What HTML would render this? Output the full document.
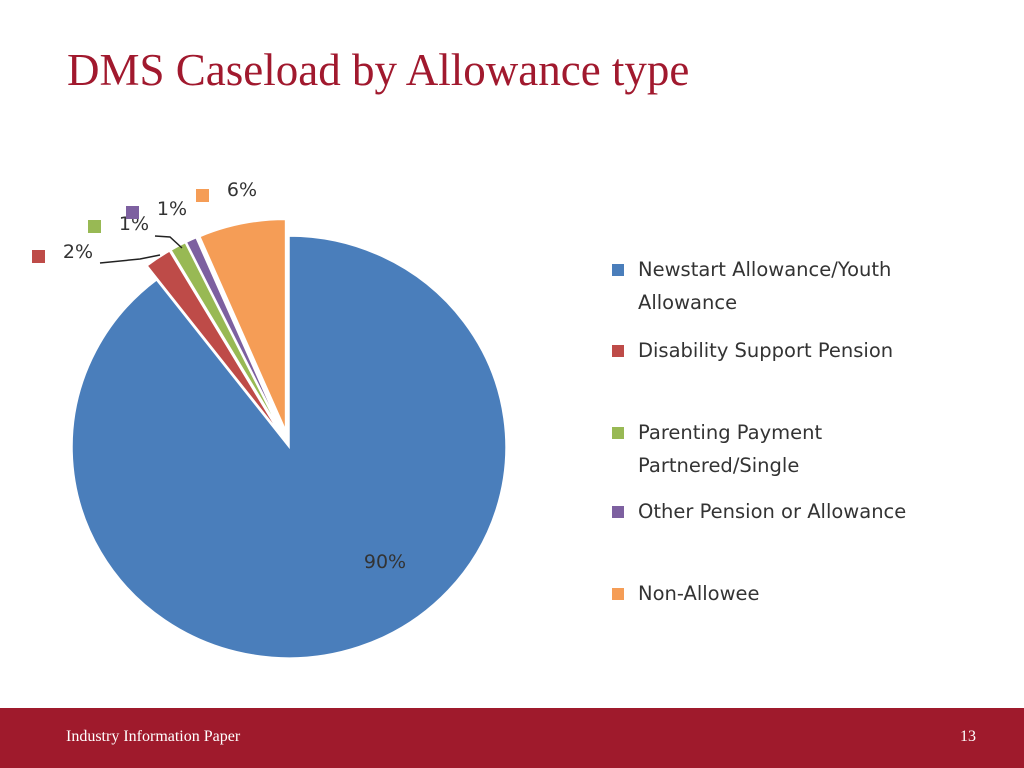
<!DOCTYPE html>
<html><head><meta charset="utf-8"><style>
body{margin:0;width:1024px;height:768px;background:#fff;position:relative;overflow:hidden;font-family:"Liberation Serif",serif}
#title{position:absolute;left:67px;top:44px;font-size:45px;color:#a1192e;white-space:nowrap}
#footer{position:absolute;left:0;top:708px;width:1024px;height:60px;background:#9f1a2c}
.ft{position:absolute;color:#fff;font-size:16px;top:20px}
.leg{position:absolute;left:612px;font-family:"DejaVu Sans",sans-serif;font-size:19.5px;color:#333;line-height:33px}
.sw{position:absolute;left:0;top:11px;width:12px;height:12px}
.lt{position:absolute;left:26px;white-space:nowrap}
</style></head><body>
<div id="title">DMS Caseload by Allowance type</div>
<svg id="pie" width="600" height="700" style="position:absolute;left:0;top:0" font-family="DejaVu Sans, sans-serif" font-size="19" fill="#333"></svg>
<div id="legend"></div>
<div id="footer">
<div class="ft" style="left:66px">Industry Information Paper</div>
<div class="ft" style="left:960px">13</div>
</div>
<script>
const categories=["Newstart Allowance/Youth Allowance","Disability Support Pension","Parenting Payment Partnered/Single","Other Pension or Allowance","Non-Allowee"];
const values=[90,2,1.2,0.8,6.5];
const labels=["90%","2%","1%","1%","6%"];
const colors=["#4a7ebb","#be4b48","#98b954","#7d60a0","#f59d56"];
const legendLines=[["Newstart Allowance/Youth","Allowance"],["Disability Support Pension"],["Parenting Payment","Partnered/Single"],["Other Pension or Allowance"],["Non-Allowee"]];
const legendTops=[253,334,416,495,577];
const NS="http://www.w3.org/2000/svg";
const svg=document.getElementById('pie');
const cx=289,cy=447,rx=217,ry=211;
const total=values.reduce((a,b)=>a+b,0);
function pt(a,r1,r2,ox,oy){return [cx+ox+r1*Math.sin(a),cy+oy-r2*Math.cos(a)];}
let acc=0;
const labelPos=[[385,568],[78,258],[134,230],[172,215],[242,196]];
const swPos=[null,[32,250],[88,220],[126,206],[196,189]];
values.forEach((v,i)=>{
  const a0=acc/total*2*Math.PI;acc+=v;const a1=acc/total*2*Math.PI;
  const mid=(a0+a1)/2;const off=i===0?0:17;
  const ox=off*Math.sin(mid),oy=-off*Math.cos(mid);
  const p0=pt(a0,rx,ry,ox,oy),p1=pt(a1,rx,ry,ox,oy);
  const large=(a1-a0)>Math.PI?1:0;
  const path=document.createElementNS(NS,'path');
  path.setAttribute('d',`M${cx+ox},${cy+oy}L${p0[0]},${p0[1]}A${rx},${ry} 0 ${large} 1 ${p1[0]},${p1[1]}Z`);
  path.setAttribute('fill',colors[i]);path.setAttribute('stroke','#fff');path.setAttribute('stroke-width','1.5');
  
  
  svg.appendChild(path);
  const t=document.createElementNS(NS,'text');
  t.setAttribute('x',labelPos[i][0]);t.setAttribute('y',labelPos[i][1]);t.setAttribute('text-anchor','middle');
  t.textContent=labels[i];
  
  
  svg.appendChild(t);
  if(swPos[i]){const r=document.createElementNS(NS,'rect');
    r.setAttribute('x',swPos[i][0]);r.setAttribute('y',swPos[i][1]);r.setAttribute('width',13);r.setAttribute('height',13);r.setAttribute('fill',colors[i]);
    
    
    svg.appendChild(r);}
});
[["M100,263 L140,259 L160,255"],["M155,236 L170,237 L182,248"]].forEach((d,k)=>{
  const l=document.createElementNS(NS,'path');l.setAttribute('d',d[0]);l.setAttribute('fill','none');l.setAttribute('stroke','#222');l.setAttribute('stroke-width','1.5');
  
  
  svg.appendChild(l);});
const lg=document.getElementById('legend');
categories.forEach((c,i)=>{
  const d=document.createElement('div');d.className='leg';d.style.top=legendTops[i]+'px';
  
  
  d.innerHTML=`<div class="sw" style="background:${colors[i]}"></div><div class="lt">${legendLines[i].join('<br>')}</div>`;
  lg.appendChild(d);
});
</script>
</body></html>
